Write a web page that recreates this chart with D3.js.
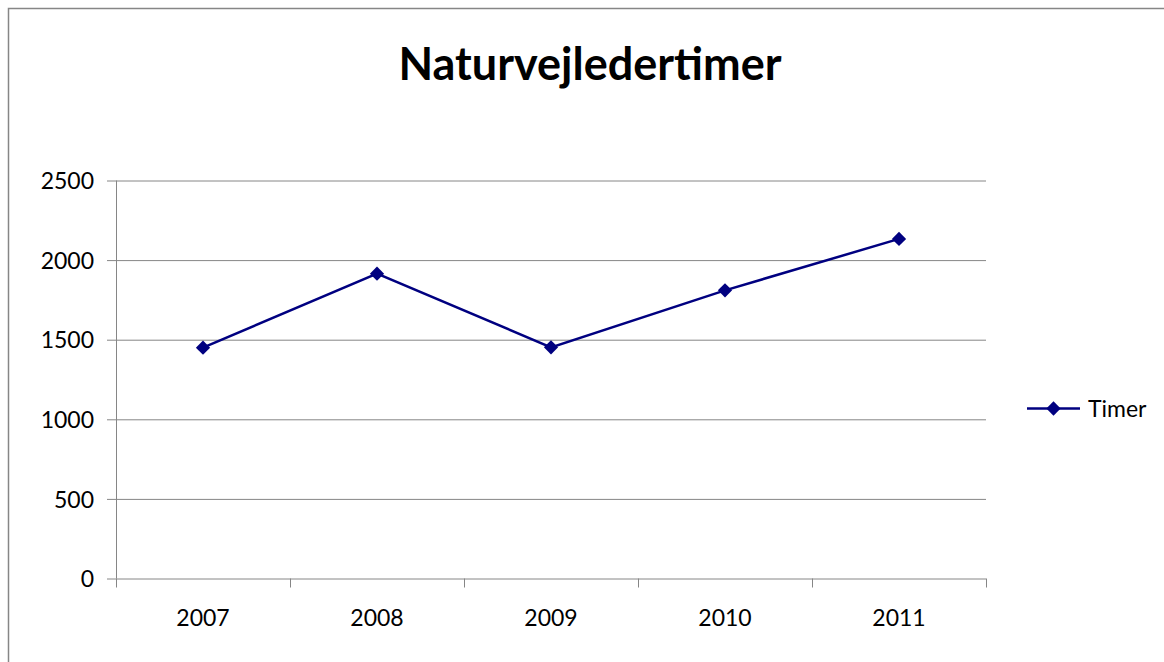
<!DOCTYPE html>
<html>
<head>
<meta charset="utf-8">
<script src="https://cdn.jsdelivr.net/npm/d3@7"></script>
<style>
  body { margin: 0; background: #fff; }
  svg { display: block; }
  text { font-family: Lato, "Open Sans", sans-serif; fill: #000; }
</style>
</head>
<body>
<svg width="1164" height="662"></svg>
<script>
var years = ["2007", "2008", "2009", "2010", "2011"];
var timer = [1450, 1915, 1452, 1810, 2133];
var yTicks = [0, 500, 1000, 1500, 2000, 2500];
var seriesName = "Timer";
var title = "Naturvejledertimer";

var svg = d3.select("svg");
var navy = "#000080", grey = "#868686";

// outer chart border (right / bottom run off the picture)
svg.append("path")
    .attr("d", "M8.5,700 L8.5,8.5 L1200,8.5")
    .attr("fill", "none")
    .attr("stroke", grey)
    .attr("stroke-width", 1.5);

var plotL = 116, plotR = 986, plotT = 180.5, plotB = 578.5;

var x = d3.scaleBand().domain(years).range([plotL, plotR]);
var y = d3.scaleLinear().domain([0, 2500]).range([plotB, plotT]);

svg.append("text")
    .attr("x", 590)
    .attr("y", 80)
    .attr("text-anchor", "middle")
    .style("font-size", "45px")
    .style("font-weight", "bold")
    .text(title);

// y axis + gridlines
var gy = svg.append("g")
    .attr("transform", "translate(" + plotL + ",0)")
    .call(d3.axisLeft(y).tickValues(yTicks).tickFormat(d3.format("d")).tickSize(0).tickPadding(22));
gy.select(".domain").remove();
gy.selectAll(".tick line")
    .attr("x1", -9)
    .attr("x2", plotR - plotL)
    .attr("stroke", grey)
    .attr("stroke-width", 1);
gy.selectAll(".tick text")
    .style("font-size", "23px")
    .style("font-family", "Lato, sans-serif")
    .attr("dy", "0.36em");
svg.append("line")
    .attr("x1", plotL + 0.5).attr("x2", plotL + 0.5)
    .attr("y1", plotT).attr("y2", plotB)
    .attr("stroke", grey);

// x axis labels
var gx = svg.append("g")
    .attr("transform", "translate(0," + plotB + ")")
    .call(d3.axisBottom(x).tickSize(0).tickPadding(31));
gx.select(".domain").remove();
gx.selectAll(".tick text")
    .style("font-size", "23px")
    .style("font-family", "Lato, sans-serif")
    .attr("dy", "0.71em");

// category boundary ticks
var edges = years.map(function(d) { return x(d); }).concat([x(years[years.length - 1]) + x.bandwidth()]);
svg.selectAll(".xedge")
    .data(edges)
    .enter()
  .append("line")
    .attr("class", "xedge")
    .attr("x1", function(d) { return Math.round(d) + 0.5; })
    .attr("x2", function(d) { return Math.round(d) + 0.5; })
    .attr("y1", plotB)
    .attr("y2", plotB + 9)
    .attr("stroke", grey);

// series
var cx = function(d, i) { return x(years[i]) + x.bandwidth() / 2; };
var line = d3.line()
    .x(cx)
    .y(function(d) { return y(d); });

svg.append("path")
    .datum(timer)
    .attr("d", line)
    .attr("fill", "none")
    .attr("stroke", navy)
    .attr("stroke-width", 2.5);

var diamond = d3.symbol().type(d3.symbolDiamond2).size(130);
svg.selectAll(".pt")
    .data(timer)
    .enter()
  .append("path")
    .attr("class", "pt")
    .attr("d", diamond)
    .attr("transform", function(d, i) { return "translate(" + cx(d, i) + "," + y(d) + ")"; })
    .attr("fill", navy);

// legend
var lg = svg.append("g").attr("transform", "translate(1027,408.5)");
lg.append("line")
    .attr("x1", 0).attr("x2", 53)
    .attr("stroke", navy)
    .attr("stroke-width", 2.5);
lg.append("path")
    .attr("d", diamond)
    .attr("transform", "translate(26.5,0)")
    .attr("fill", navy);
lg.append("text")
    .attr("x", 61)
    .attr("dy", "0.36em")
    .style("font-size", "23px")
    .text(seriesName);
</script>
</body>
</html>
